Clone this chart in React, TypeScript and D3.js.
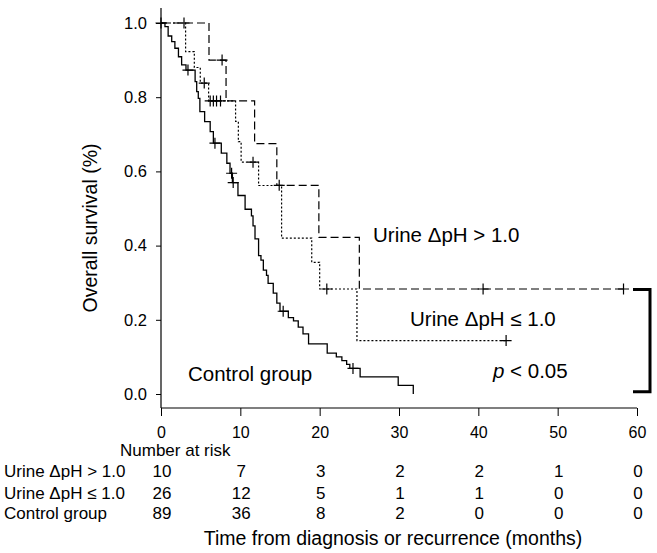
import React, { useEffect, useRef } from 'react'
import * as d3 from 'd3'

// time ticks (months) and survival ticks
const T_TICKS = [0, 10, 20, 30, 40, 50, 60]
const S_TICKS = [0, 0.2, 0.4, 0.6, 0.8, 1.0]

// Kaplan-Meier steps: [time, survival after the drop]
const highSteps: [number, number][] = [[0, 1], [6.05, 0.9], [8.2, 0.79], [11.8, 0.675], [14.6, 0.5625], [19.9, 0.422], [25.0, 0.283]]
const highEnd = 58.3
const highCensor = [0, 7.7, 14.9, 40.6, 58.3]

const lowSteps: [number, number][] = [[0, 1], [3.1, 0.923], [4.2, 0.88], [4.95, 0.838], [6.0, 0.79], [9.4, 0.735], [9.75, 0.68], [10.1, 0.625], [12.3, 0.562], [15.2, 0.42], [19.0, 0.355], [20.0, 0.283], [24.7, 0.144]]
const lowEnd = 43.5
const lowCensor = [2.9, 5.45, 6.2, 6.6, 7.0, 7.5, 11.6, 20.9, 43.5]

const ctrlSteps: [number, number][] = [[0, 1], [0.5, 0.99], [0.9, 0.965], [1.35, 0.95], [1.75, 0.932], [2.2, 0.909], [2.6, 0.887], [3.15, 0.873], [4.3, 0.842], [4.5, 0.815], [4.7, 0.797], [4.9, 0.761], [5.5, 0.734], [6.2, 0.707], [6.6, 0.676], [7.6, 0.649], [8.3, 0.622], [8.7, 0.595], [9.0, 0.57], [9.7, 0.535], [10.6, 0.498], [11.4, 0.48], [11.6, 0.453], [11.85, 0.418], [12.3, 0.373], [12.6, 0.361], [12.9, 0.334], [13.3, 0.32], [13.5, 0.298], [14.15, 0.272], [14.6, 0.245], [15.0, 0.223], [16.05, 0.206], [16.7, 0.197], [17.3, 0.18], [17.9, 0.162], [18.6, 0.135], [20.95, 0.11], [22.1, 0.1], [22.8, 0.09], [23.4, 0.08], [23.8, 0.069], [25.1, 0.046], [29.9, 0.023], [31.8, 0]]
const ctrlEnd = 31.8
const ctrlCensor = [3.4, 6.8, 8.9, 9.1, 15.4, 24.2]

// number at risk table
const riskLabels = ['Urine ΔpH > 1.0', 'Urine ΔpH ≤ 1.0', 'Control group']
const riskHigh = [10, 7, 3, 2, 2, 1, 0]
const riskLow = [26, 12, 5, 1, 1, 0, 0]
const riskCtrl = [89, 36, 8, 2, 0, 0, 0]

const FONT = '"Liberation Sans", Arial, Helvetica, sans-serif'

export default function App() {
  const svgRef = useRef<SVGSVGElement>(null)

  useEffect(() => {
    const width = 657, height = 553
    const svg = d3.select(svgRef.current).attr('width', width).attr('height', height)
    svg.selectAll('*').remove()
    svg.append('rect').attr('width', width).attr('height', height).attr('fill', '#fff')

    const x = d3.scaleLinear().domain([0, 60]).range([161, 637])
    const y = d3.scaleLinear().domain([0, 1]).range([394, 23])
    const axisY = 408

    // axes
    const gy = svg.append('g').attr('transform', `translate(${x(0)},0)`)
      .call(d3.axisLeft(y).tickValues(S_TICKS).tickFormat(d3.format('.1f')).tickSize(5).tickPadding(9).tickSizeOuter(0))
    gy.select('.domain').remove()
    gy.selectAll('text').attr('font-size', 16.5).attr('font-family', FONT).attr('fill', '#000')
    svg.append('line').attr('x1', x(0)).attr('x2', x(0)).attr('y1', 8).attr('y2', axisY).attr('stroke', '#000').attr('stroke-width', 1.2)

    const gx = svg.append('g').attr('transform', `translate(0,${axisY})`)
      .call(d3.axisBottom(x).tickValues(T_TICKS).tickSize(8).tickPadding(11).tickSizeOuter(0))
    gx.select('.domain').remove()
    gx.selectAll('text').attr('font-size', 16).attr('font-family', FONT).attr('fill', '#000')
    svg.append('line').attr('x1', x(0)).attr('x2', x(60)).attr('y1', axisY).attr('y2', axisY).attr('stroke', '#000').attr('stroke-width', 1.2)

    svg.append('text').attr('transform', `translate(90,228) rotate(-90)`).attr('text-anchor', 'middle')
      .attr('dominant-baseline', 'central').attr('font-size', 19.5).attr('font-family', FONT).text('Overall survival (%)')

    // curves
    const line = d3.line<[number, number]>().x(d => x(d[0])).y(d => y(d[1])).curve(d3.curveStepAfter)
    const surv = (steps: [number, number][], t: number) => {
      let s = steps[0][1]
      for (const st of steps) if (st[0] <= t) s = st[1]
      return s
    }
    const curves = [
      { steps: highSteps, end: highEnd, censor: highCensor, dash: '8,4', w: 1.2 },
      { steps: lowSteps, end: lowEnd, censor: lowCensor, dash: '2,2', w: 1.2 },
      { steps: ctrlSteps, end: ctrlEnd, censor: ctrlCensor, dash: null, w: 1.3 },
    ]
    curves.forEach(c => {
      const last = c.steps[c.steps.length - 1]
      const pts: [number, number][] = last[0] < c.end ? [...c.steps, [c.end, last[1]]] : c.steps
      svg.append('path').datum(pts).attr('d', line).attr('fill', 'none').attr('stroke', '#000')
        .attr('stroke-width', c.w).attr('stroke-dasharray', c.dash)
      const g = svg.append('g')
      c.censor.forEach(t => {
        const cx = x(t), cy = y(surv(c.steps, t)), h = 5.5
        g.append('path').attr('d', `M${cx - h},${cy}H${cx + h}M${cx},${cy - h}V${cy + h}`)
          .attr('stroke', '#000').attr('stroke-width', 1.2).attr('fill', 'none')
      })
    })

    // annotations
    const ann = (tx: number, ty: number, txt: string) =>
      svg.append('text').attr('x', tx).attr('y', ty).attr('font-size', 20.5).attr('font-family', FONT).text(txt)
    ann(373, 242, 'Urine ΔpH > 1.0')
    ann(410, 326, 'Urine ΔpH ≤ 1.0')
    ann(188, 381, 'Control group')
    const pt = svg.append('text').attr('x', 493).attr('y', 378).attr('font-size', 20.5).attr('font-family', FONT)
    pt.append('tspan').attr('font-style', 'italic').text('p')
    pt.append('tspan').text(' < 0.05')

    // bracket
    const bx = x(60) + 13, b0 = x(60) - 4
    svg.append('path').attr('d', `M${b0},${y(0.282)}H${bx}V${y(0.006)}H${b0}`)
      .attr('fill', 'none').attr('stroke', '#000').attr('stroke-width', 3)

    // number at risk
    svg.append('text').attr('x', 120).attr('y', 456).attr('font-size', 17).attr('font-family', FONT).text('Number at risk')
    const rows = [riskHigh, riskLow, riskCtrl]
    const rowY = [477, 498.5, 519]
    rows.forEach((r, i) => {
      svg.append('text').attr('x', 4).attr('y', rowY[i]).attr('font-size', 17).attr('font-family', FONT).text(riskLabels[i])
      r.forEach((v, j) => {
        svg.append('text').attr('x', x(T_TICKS[j]) + 1).attr('y', rowY[i]).attr('text-anchor', 'middle')
          .attr('font-size', 17).attr('font-family', FONT).text(v)
      })
    })
    svg.append('text').attr('x', 393).attr('y', 545).attr('text-anchor', 'middle').attr('font-size', 19.5)
      .attr('font-family', FONT).text('Time from diagnosis or recurrence (months)')
  }, [])

  return <svg ref={svgRef} style={{ position: 'absolute', left: 0, top: 0, display: 'block' }} />
}
